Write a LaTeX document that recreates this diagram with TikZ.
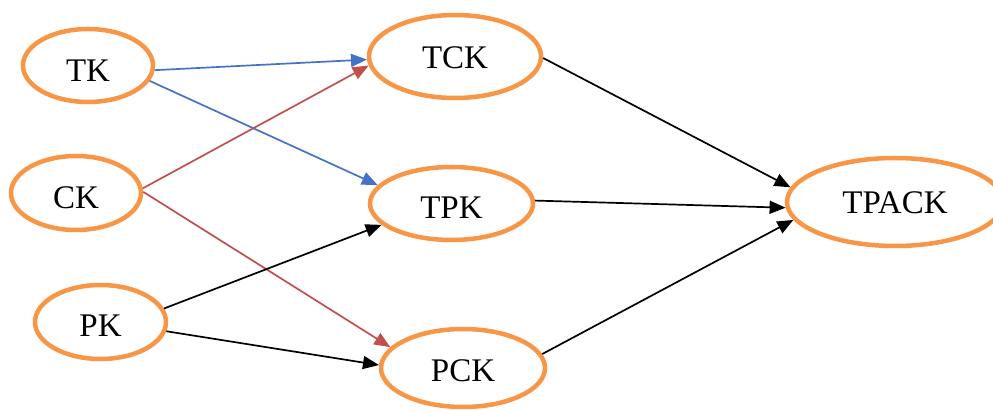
\documentclass[tikz,border=0pt]{standalone}
\usepackage{fontspec}
\setmainfont{Liberation Serif}
\usetikzlibrary{shapes.geometric,arrows.meta}
\definecolor{ellorange}{RGB}{247,150,70}
\definecolor{arrblue}{RGB}{68,114,196}
\definecolor{arrred}{RGB}{192,80,77}
\tikzset{
  ell/.style={ellipse,draw=ellorange,line width=4.5pt,inner sep=0pt,fill=none},
  txt/.style={font=\fontsize{33}{35}\selectfont,inner sep=0pt,text depth=0pt},
  conn/.style={line width=1.7pt,-{Triangle[length=16pt,width=13pt]}},
  bluec/.style={conn,draw=arrblue,fill=arrblue},
  redc/.style={conn,draw=arrred,fill=arrred},
  blackc/.style={conn,draw=black,fill=black}
}
\begin{document}
\begin{tikzpicture}[x=1pt,y=-1pt]
\useasboundingbox (0,0) rectangle (993,411);
\node[ell,minimum width=130pt,minimum height=73pt,label={[txt,yshift=-5pt]center:TK}] (tk) at (88,65.5) {};
\node[ell,minimum width=130pt,minimum height=74pt,label={[txt,yshift=-4.5pt]center:CK}] (ck) at (76,193) {};
\node[ell,minimum width=131pt,minimum height=74pt,label={[txt,yshift=-4pt]center:PK}] (pk) at (100.5,322) {};
\node[ell,minimum width=172pt,minimum height=83pt,label={[txt,yshift=-1.5pt]center:TCK}] (tck) at (455,56.5) {};
\node[ell,minimum width=163pt,minimum height=73pt,label={[txt,yshift=-4.5pt]center:TPK}] (tpk) at (451.5,203.5) {};
\node[ell,minimum width=164pt,minimum height=78pt,label={[txt,yshift=-3pt]center:PCK}] (pck) at (463,368) {};
\node[ell,minimum width=216pt,minimum height=88pt,label={[txt,yshift=-1pt]center:TPACK}] (tpack) at (895,202) {};

\draw[bluec] (tk.-4.8) -- (tck.182.4);
\draw[bluec] (tk.-14.5) -- (tpk.166);
\draw[redc] (ck.4) -- (tck.186.6);
\draw[redc] (ck.1.6) -- (pck.164.7);
\draw[blackc] (pk.12.8) -- (tpk.197.4);
\draw[blackc] (pk.-8.3) -- (pck.178);
\draw[blackc] (tck.-1.7) -- (tpack.172.2);
\draw[blackc] (tpk.2.2) -- (tpack.183);
\draw[blackc] (pck.10.5) -- (tpack.190.5);
\end{tikzpicture}
\end{document}
